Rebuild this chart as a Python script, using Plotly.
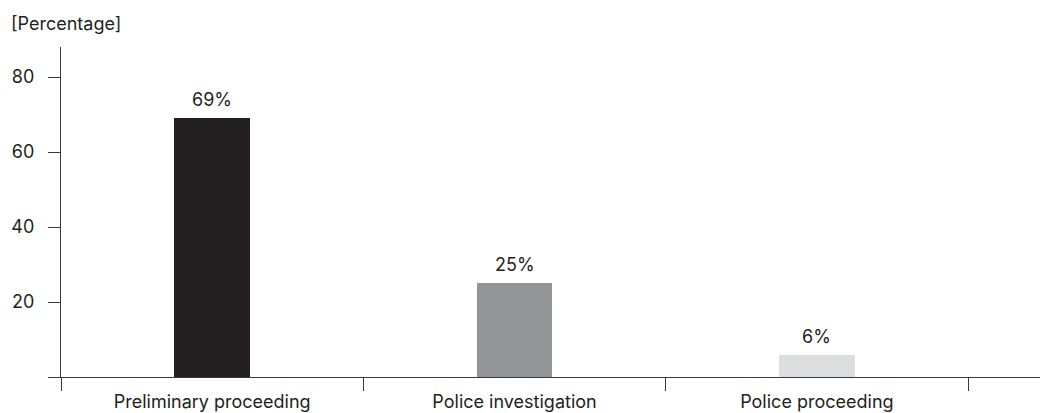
import plotly.graph_objects as go

categories = ["Preliminary proceeding", "Police investigation", "Police proceeding"]
values = [69, 25, 6]
bar_labels = ["69%", "25%", "6%"]
colors = ["#231f20", "#939598", "#dcddde"]
y_ticks = [0, 20, 40, 60, 80]
y_tick_text = ["", "20", "40", "60", "80"]
y_title = "[Percentage]"

font_family = "Inter, Roboto, sans-serif"
text_color = "#231f20"
fs = 18

fig = go.Figure()
fig.add_trace(go.Bar(
    x=categories,
    y=values,
    marker=dict(color=colors, line=dict(width=0)),
    width=0.25,
    hoverinfo="skip",
))

for c, v, t in zip(categories, values, bar_labels):
    fig.add_annotation(
        x=c, y=v, text=t, showarrow=False,
        xref="x", yref="y", yanchor="bottom", yshift=6,
        font=dict(family=font_family, size=fs, color=text_color),
    )

fig.add_annotation(
    x=0, y=1, xref="paper", yref="paper", xanchor="left", yanchor="bottom",
    text=y_title, showarrow=False, xshift=-52, yshift=11,
    font=dict(family=font_family, size=fs, color=text_color),
)

fig.update_layout(
    width=1046, height=413,
    margin=dict(l=61, r=6, t=47, b=36),
    paper_bgcolor="white", plot_bgcolor="white",
    showlegend=False,
    bargap=0,
    font=dict(family=font_family, size=fs, color=text_color),
)
fig.update_xaxes(
    type="category",
    range=[-0.5, 2.738],
    automargin=False,
    showgrid=False, zeroline=False,
    showline=True, linecolor="#3a3a3a", linewidth=1.3,
    ticks="outside", tickson="boundaries", ticklen=13, tickwidth=1.3, tickcolor="#3a3a3a",
    ticklabelstandoff=8,
    tickfont=dict(family=font_family, size=fs, color=text_color),
)
fig.update_yaxes(
    range=[0, 88],
    automargin=False,
    tickmode="array", tickvals=y_ticks, ticktext=y_tick_text,
    showgrid=False, zeroline=False,
    showline=True, linecolor="#3a3a3a", linewidth=1.3,
    ticks="outside", ticklen=12, tickwidth=1.3, tickcolor="#3a3a3a",
    ticklabelstandoff=10,
    tickfont=dict(family=font_family, size=fs, color=text_color),
)

fig.write_html("out.html")
